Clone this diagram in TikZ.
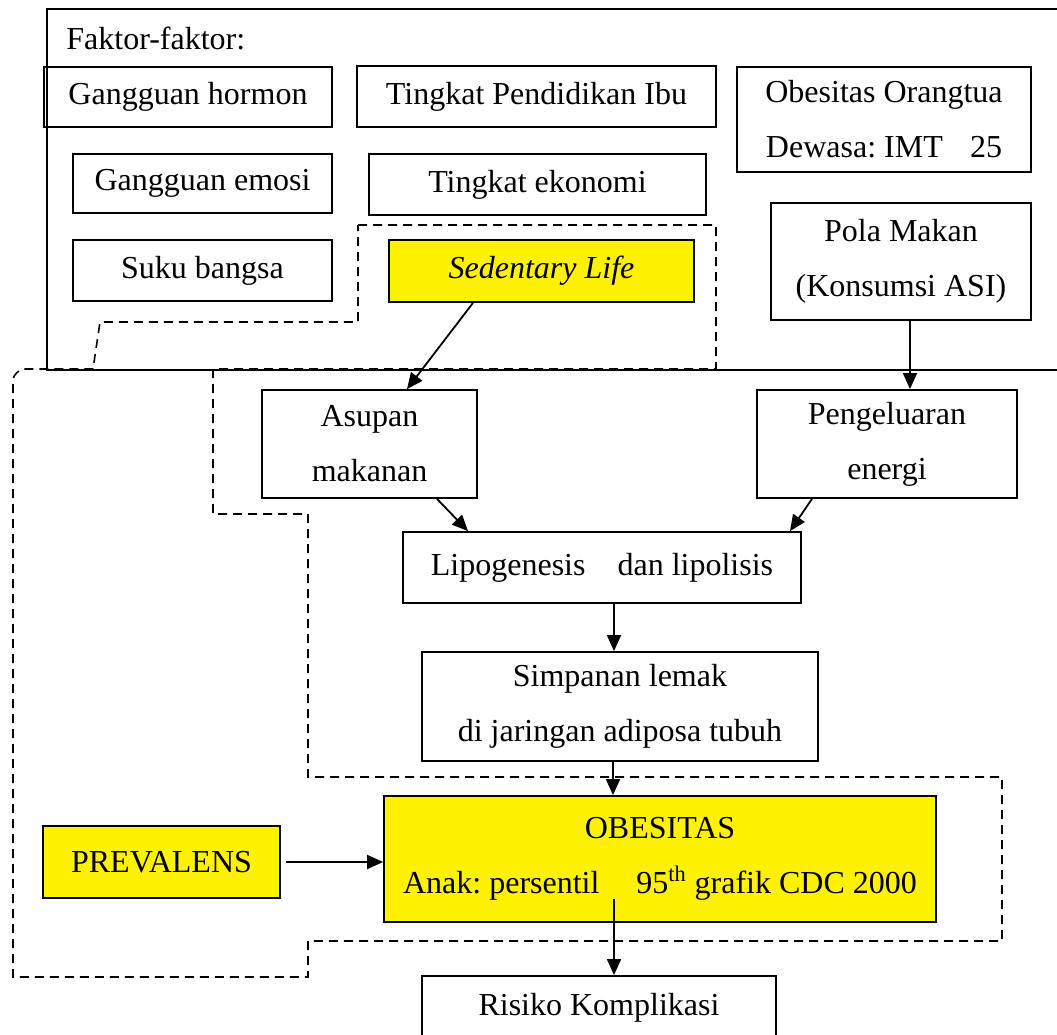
\documentclass[tikz,border=0pt]{standalone}
\usepackage{fontspec}
\setmainfont{Liberation Serif}
\usetikzlibrary{arrows.meta, positioning, math, calc}
\frenchspacing

\begin{document}
\begin{tikzpicture}[x=0.5pt, y=-0.5pt]
	\tikzmath{
		\picW   = 1057; %picture width
		\picH   = 1035; %picture height
		\lineW  = 0.9;  %line width of boxes and arrows (pt)
		\dashW  = 0.8;  %line width of the dashed group
	}
	\tikzset{Size/.style 2 args={minimum width=#1*0.5pt, minimum height=#2*0.5pt}}
	\tikzstyle{Node} = [
		rectangle,
		draw=black,
		line width=\lineW pt,
		align=center,
		inner sep=0pt,
		font=\fontsize{16pt}{27.5pt}\selectfont
	]
	\tikzstyle{YellowNode} = [Node, fill=yellow]
	\tikzstyle{EmptyNode}  = [rectangle, inner sep=0pt, font=\fontsize{16pt}{27.5pt}\selectfont]
	\tikzstyle{Arrow}      = [-{Triangle[length=8pt, width=7pt]}, line width=\lineW pt]
	\tikzstyle{Group}      = [dash pattern=on 4.5pt off 3pt, line width=\dashW pt]

	\useasboundingbox (0,0) rectangle (\picW,\picH);
	\clip (0,0) rectangle (\picW,\picH);

	%%%%%%%%%%%%%%%%%%%%%%%%%%===---FAKTOR-FAKTOR---===%%%%%%%%%%%%%%%%%%%%%%%%%%
	\node (faktor)      [draw, line width=\lineW pt, Size={1040}{361}, anchor=north west] at (46,8) {};
	\node (faktorLabel) [EmptyNode, anchor=base west] at (66,49) {Faktor-faktor:};

		\node (hormon)     [Node, Size={288}{60}]  at (188,97)      {Gangguan hormon};
		\node (pendidikan) [Node, Size={359}{61}]  at (536.5,96.5)  {Tingkat Pendidikan Ibu};
		\node (orangtua)   [Node, Size={294}{105}] at (884,119.5)   {Obesitas Orangtua\\Dewasa: IMT\hspace{0.85em}25};

		\node (emosi)      [Node, Size={259}{59}]  at (202.5,183.5) {Gangguan emosi};
		\node (ekonomi)    [Node, Size={337}{61}]  at (537.5,184.5) {Tingkat ekonomi};

		\node (suku)       [Node, Size={259}{61}]  at (202.5,270.5) {Suku bangsa};
		\node (sedentary)  [YellowNode, Size={305}{62}] at (541.5,271) {\textit{Sedentary Life}};
		\node (polaMakan)  [Node, Size={260}{117}] at (901,261.5)   {Pola Makan\\(Konsumsi ASI)};

	%%%%%%%%%%%%%%%%%%%%%%%%%%===---ASUPAN / PENGELUARAN---===%%%%%%%%%%%%%%%%%%%%%%%%%%
		\node (asupan)      [Node, Size={215}{108}] at (369.5,444) {Asupan\\makanan};
		\node (pengeluaran) [Node, Size={260}{108}] at (887,444)   {Pengeluaran\\energi};
	\draw[Arrow] ($(sedentary.south) + (-68.5,0)$) -- ($(asupan.north) + (37.5,0)$);
	\draw[Arrow] ($(polaMakan.south) + (9,0)$)     -- ($(pengeluaran.north) + (23,0)$);

		\node (lipo)     [Node, Size={398}{71}]  at (602,567.5) {Lipogenesis\hspace{1em}dan lipolisis};
	\draw[Arrow] ($(asupan.south) + (67.5,0)$)      -- ($(lipo.north) + (-134,0)$);
	\draw[Arrow] ($(pengeluaran.south) + (-75,0)$)  -- ($(lipo.north) + (188,0)$);

		\node (simpanan) [Node, Size={396}{109}] at (620,706.5) {Simpanan lemak\\di jaringan adiposa tubuh};
	\draw[Arrow] ($(lipo.south) + (12,0)$) -- ($(simpanan.north) + (-6,0)$);

	%%%%%%%%%%%%%%%%%%%%%%%%%%===---OBESITAS---===%%%%%%%%%%%%%%%%%%%%%%%%%%
		\node (obesitas)  [YellowNode, Size={552}{126}] at (660,859)   {OBESITAS\\Anak: persentil\hspace{1.15em}95\textsuperscript{th} grafik CDC 2000};
		\node (prevalens) [YellowNode, Size={237}{72}]  at (161.5,862) {PREVALENS};
		\node (risiko)    [Node, Size={354}{64}]        at (599,1008)  {Risiko Komplikasi};
	\draw[Arrow] ($(simpanan.south) + (-7,0)$)    -- ($(obesitas.north) + (-47,0)$);
	\draw[Arrow] ($(prevalens.east) + (5,0)$)     -- (prevalens.east -| obesitas.west);
	\draw[Arrow] ($(obesitas.south) + (-46,-24)$) -- ($(risiko.north) + (15,0)$);

	%%%%%%%%%%%%%%%%%%%%%%%%%%===---DASHED GROUP---===%%%%%%%%%%%%%%%%%%%%%%%%%%
	\draw[Group] (358,225) -- (716,225) -- (716,369) -- (213,369) -- (213,514)
		-- (308,514) -- (308,777) -- (1002,777) -- (1002,941) -- (308,941)
		-- (308,977) -- (13,977) -- (13,390) .. controls (13,375) .. (22,369) -- (93,369)
		-- (100,322) -- (358,322) -- cycle;
\end{tikzpicture}
\end{document}
